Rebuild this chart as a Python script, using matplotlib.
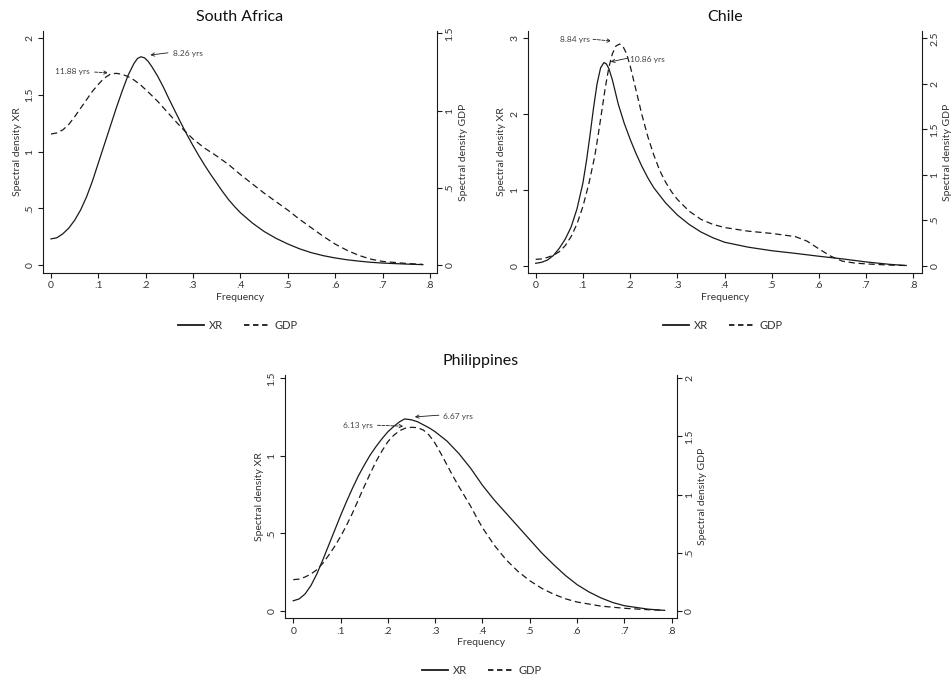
import matplotlib.pyplot as plt
from matplotlib.lines import Line2D

plt.rcParams['font.family'] = ['Lato', 'DejaVu Sans']

# === DATA ===
# South Africa
sa_xr_freq = [0, 0.0125, 0.025, 0.0375, 0.05, 0.0625, 0.075, 0.0875, 0.1,
              0.1125, 0.125, 0.1375, 0.15, 0.1625, 0.175,
              0.1825, 0.19, 0.1975, 0.205, 0.2125, 0.225,
              0.2375, 0.25, 0.2625, 0.275, 0.2875, 0.3,
              0.3125, 0.325, 0.3375, 0.35, 0.3625, 0.375, 0.3875, 0.4,
              0.425, 0.45, 0.475, 0.5, 0.525, 0.55, 0.575, 0.6, 0.625, 0.65, 0.675, 0.7, 0.75, 0.785]
sa_xr = [0.23, 0.24, 0.275, 0.325, 0.395, 0.485, 0.60, 0.74, 0.90,
         1.06, 1.22, 1.38, 1.53, 1.67, 1.775,
         1.82, 1.835, 1.825, 1.795, 1.75, 1.665,
         1.565, 1.455, 1.35, 1.245, 1.145, 1.05,
         0.96, 0.875, 0.795, 0.72, 0.645, 0.575, 0.515, 0.46,
         0.37, 0.295, 0.235, 0.185, 0.142, 0.108, 0.082, 0.062, 0.046, 0.034, 0.024, 0.017, 0.008, 0.003]
sa_gdp_freq = [0, 0.0125, 0.025, 0.0375, 0.05, 0.0625, 0.075, 0.0875, 0.1, 0.1125,
               0.125, 0.1375, 0.15, 0.1625, 0.175, 0.1875, 0.2, 0.2125, 0.225, 0.25,
               0.275, 0.3, 0.325, 0.35, 0.375, 0.4, 0.425, 0.45, 0.475, 0.5,
               0.525, 0.55, 0.575, 0.6, 0.625, 0.65, 0.675, 0.7, 0.75, 0.785]
sa_gdp = [0.848, 0.855, 0.875, 0.91, 0.96, 1.015, 1.07, 1.125, 1.17, 1.21,
          1.235, 1.241, 1.235, 1.22, 1.198, 1.17, 1.135, 1.098, 1.06, 0.975,
          0.89, 0.815, 0.755, 0.705, 0.65, 0.585, 0.525, 0.465, 0.41, 0.355,
          0.295, 0.24, 0.185, 0.135, 0.095, 0.062, 0.038, 0.023, 0.01, 0.004]

# Chile
cl_xr_freq = [0, 0.0125, 0.025, 0.0375, 0.05, 0.0625, 0.075, 0.0875, 0.1,
              0.1075, 0.115, 0.1225, 0.13, 0.1375, 0.1446, 0.15, 0.155, 0.1625, 0.175,
              0.1875, 0.2, 0.2125, 0.225, 0.2375, 0.25, 0.275, 0.3, 0.325, 0.35,
              0.375, 0.4, 0.45, 0.5, 0.55, 0.6, 0.65, 0.7, 0.75, 0.785]
cl_xr = [0.032, 0.045, 0.075, 0.135, 0.23, 0.35, 0.51, 0.75, 1.09,
         1.38, 1.72, 2.08, 2.40, 2.61, 2.68, 2.66, 2.60, 2.45, 2.13,
         1.88, 1.67, 1.48, 1.31, 1.16, 1.03, 0.83, 0.67, 0.545, 0.445,
         0.37, 0.31, 0.245, 0.198, 0.163, 0.125, 0.09, 0.05, 0.018, 0.003]
cl_gdp_freq = [0, 0.0125, 0.025, 0.0375, 0.05, 0.0625, 0.075, 0.0875, 0.1, 0.1125,
               0.125, 0.1325, 0.14, 0.1475, 0.155, 0.1625, 0.17, 0.1777, 0.185, 0.1925,
               0.2, 0.2125, 0.225, 0.2375, 0.25, 0.2625, 0.275, 0.2875, 0.3, 0.325,
               0.35, 0.375, 0.4, 0.45, 0.5, 0.55, 0.575, 0.6, 0.625, 0.65,
               0.675, 0.7, 0.75, 0.785]
cl_gdp = [0.07, 0.075, 0.092, 0.115, 0.154, 0.22, 0.32, 0.46, 0.65, 0.90,
          1.20, 1.44, 1.70, 1.96, 2.18, 2.33, 2.415, 2.437, 2.41, 2.33,
          2.20, 1.93, 1.66, 1.42, 1.22, 1.05, 0.92, 0.815, 0.73, 0.60,
          0.51, 0.455, 0.42, 0.38, 0.355, 0.32, 0.27, 0.185, 0.105, 0.05,
          0.03, 0.02, 0.007, 0.002]

# Philippines
ph_xr_freq = [0, 0.0125, 0.025, 0.0375, 0.05, 0.0625, 0.075, 0.0875, 0.1, 0.1125,
              0.125, 0.1375, 0.15, 0.1625, 0.175, 0.1875, 0.2, 0.2125, 0.225, 0.2355,
              0.25, 0.2625, 0.275, 0.2875, 0.3, 0.325, 0.35, 0.375, 0.4, 0.425,
              0.45, 0.475, 0.5, 0.525, 0.55, 0.575, 0.6, 0.625, 0.65, 0.675,
              0.7, 0.75, 0.785]
ph_xr = [0.066, 0.078, 0.11, 0.165, 0.24, 0.33, 0.425, 0.52, 0.615, 0.705,
         0.79, 0.87, 0.94, 1.005, 1.06, 1.11, 1.155, 1.19, 1.22, 1.238,
         1.232, 1.22, 1.20, 1.18, 1.155, 1.095, 1.015, 0.92, 0.81, 0.715,
         0.63, 0.545, 0.46, 0.375, 0.30, 0.23, 0.17, 0.123, 0.085, 0.055,
         0.034, 0.012, 0.004]
ph_gdp_freq = [0, 0.0125, 0.025, 0.0375, 0.05, 0.0625, 0.075, 0.0875, 0.1, 0.1125,
               0.125, 0.1375, 0.15, 0.1625, 0.175, 0.1875, 0.2, 0.2125, 0.225, 0.2375,
               0.25, 0.2625, 0.275, 0.2875, 0.3, 0.3125, 0.325, 0.3375, 0.35, 0.3625,
               0.375, 0.3875, 0.4, 0.425, 0.45, 0.475, 0.5, 0.525, 0.55, 0.575,
               0.6, 0.65, 0.7, 0.75, 0.785]
ph_gdp = [0.269, 0.274, 0.292, 0.318, 0.355, 0.41, 0.48, 0.555, 0.64, 0.735,
          0.84, 0.955, 1.07, 1.18, 1.285, 1.375, 1.455, 1.51, 1.55, 1.572,
          1.579, 1.575, 1.555, 1.51, 1.44, 1.35, 1.255, 1.16, 1.07, 0.985,
          0.90, 0.805, 0.715, 0.565, 0.44, 0.34, 0.26, 0.195, 0.145, 0.105,
          0.077, 0.042, 0.023, 0.011, 0.005]

x_ticks = [0, 0.1, 0.2, 0.3, 0.4, 0.5, 0.6, 0.7, 0.8]

LINE = '#1a1a1a'
TEXT = '#333333'
W, H = 951, 680


def stata_label(v):
    s = f"{v:g}"
    return s[1:] if s.startswith("0.") else s


def draw_panel(fig, box, title, xr_f, xr, gdp_f, gdp, xlim, ylim_l, yt_l, ylim_r, yt_r,
               notes, legend_xy):
    x0, y0, x1, y1 = box
    ax = fig.add_axes([x0 / W, 1 - y1 / H, (x1 - x0) / W, (y1 - y0) / H])
    ax2 = ax.twinx()

    ax.plot(xr_f, xr, color=LINE, lw=0.9)
    ax2.plot(gdp_f, gdp, color=LINE, lw=0.9, ls=(0, (5, 3)))

    ax.set_xlim(*xlim)
    ax.set_ylim(*ylim_l)
    ax2.set_ylim(*ylim_r)

    ax.set_xticks(x_ticks)
    ax.set_xticklabels([stata_label(v) for v in x_ticks])
    ax.set_yticks(yt_l)
    ax.set_yticklabels([stata_label(v) for v in yt_l], rotation=90, va='center')
    ax2.set_yticks(yt_r)
    ax2.set_yticklabels([stata_label(v) for v in yt_r], rotation=90, va='center')

    for a in (ax, ax2):
        a.spines['top'].set_visible(False)
        for sp in a.spines.values():
            sp.set_linewidth(0.8)
            sp.set_color(LINE)
        a.tick_params(length=3.5, width=0.8, color=LINE, labelsize=7.5,
                      labelcolor=TEXT, pad=2.5)
    ax2.spines['left'].set_visible(False)
    ax2.spines['bottom'].set_visible(False)
    ax.spines['right'].set_visible(False)

    ax.set_xlabel("Frequency", fontsize=7.5, color=TEXT, labelpad=2)
    ax.set_ylabel("Spectral density XR", fontsize=7.5, color=TEXT, labelpad=3)
    ax2.set_ylabel("Spectral density GDP", fontsize=7.5, color=TEXT, labelpad=3)
    ax.set_title(title, fontsize=11.5, color='#111111', pad=7)

    # period annotations (text, text pos, arrow tail, arrow head, ha, dashed)
    for txt, tpos, tail, head, ha, dashed in notes:
        ax.text(tpos[0], tpos[1], txt, fontsize=6, color='#444444', ha=ha, va='center')
        ax.annotate('', xy=head, xytext=tail,
                    arrowprops=dict(arrowstyle='->', lw=0.6, color=LINE,
                                    ls='--' if dashed else '-', mutation_scale=6,
                                    shrinkA=0, shrinkB=0))

    handles = [Line2D([], [], color=LINE, lw=1.3),
               Line2D([], [], color=LINE, lw=1.3, ls=(0, (3, 2)))]
    fig.legend(handles, ["XR", "GDP"], loc='center',
               bbox_to_anchor=(legend_xy[0] / W, 1 - legend_xy[1] / H),
               ncol=2, frameon=False, fontsize=8, handlelength=2.3,
               handletextpad=0.5, columnspacing=1.8, labelcolor=TEXT)
    return ax


fig = plt.figure(figsize=(W / 100, H / 100), dpi=100)

draw_panel(fig, (43, 31, 437, 273), "South Africa", sa_xr_freq, sa_xr, sa_gdp_freq, sa_gdp,
           (-0.0169, 0.8148), (-0.0705, 2.062), [0, 0.5, 1, 1.5, 2],
           (-0.0518, 1.515), [0, 0.5, 1, 1.5],
           [("8.26 yrs", (0.2575, 1.865), (0.247, 1.87), (0.2097, 1.85), 'left', False),
            ("11.88 yrs", (0.0817, 1.703), (0.092, 1.70), (0.1203, 1.694), 'right', True)],
           (238, 325))

draw_panel(fig, (528, 31, 922, 273), "Chile", cl_xr_freq, cl_xr, cl_gdp_freq, cl_gdp,
           (-0.0163, 0.8184), (-0.096, 3.096), [0, 1, 2, 3],
           (-0.080, 2.580), [0, 0.5, 1, 1.5, 2, 2.5],
           [("8.84 yrs", (0.1144, 2.987), (0.1214, 2.987), (0.160, 2.964), 'right', True),
            ("10.86 yrs", (0.199, 2.723), (0.194, 2.736), (0.159, 2.69), 'left', False)],
           (723, 325))

draw_panel(fig, (285, 375, 676.7, 618.3), "Philippines", ph_xr_freq, ph_xr, ph_gdp_freq, ph_gdp,
           (-0.0175, 0.8106), (-0.047, 1.521), [0, 0.5, 1, 1.5],
           (-0.063, 2.028), [0, 0.5, 1, 1.5, 2],
           [("6.67 yrs", (0.317, 1.255), (0.308, 1.262), (0.257, 1.251), 'left', False),
            ("6.13 yrs", (0.169, 1.197), (0.178, 1.197), (0.2326, 1.191), 'right', True)],
           (482, 670))

fig.savefig("out.png", dpi=100, facecolor='white')
